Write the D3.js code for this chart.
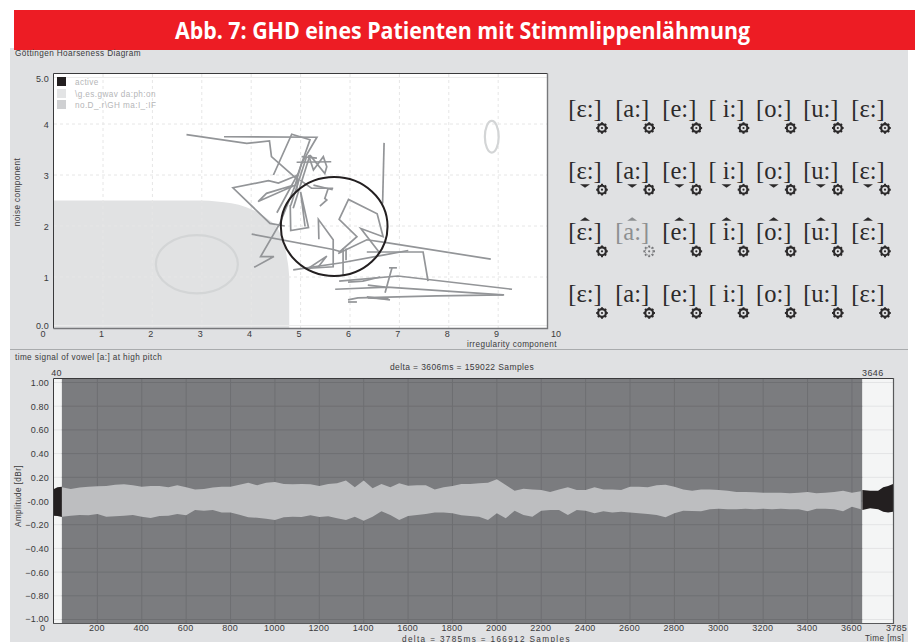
<!DOCTYPE html>
<html>
<head>
<meta charset="utf-8">
<script src="https://cdn.jsdelivr.net/npm/d3@7"></script>
<style>
  html, body { margin: 0; padding: 0; background: #fff; overflow: hidden; }
  svg { display: block; }
  text { font-family: "Liberation Sans", sans-serif; }
</style>
</head>
<body>
<div id="chart"></div>
<script>
// --- data ---
const titleText = "Abb. 7: GHD eines Patienten mit Stimmlippenlähmung";
const legendLabels = ["active", "\\g.es.gwav da:ph:on", "no.D_.r\\GH ma:I_:IF"];
const irregularityTicks = [0, 1, 2, 3, 4, 5, 6, 7, 8, 9, 10];
const noiseTicks = [0, 1, 2, 3, 4, 5];

// normal-voice area in the diagram (irregularity, noise)
const normalArea = [[0, 2.5], [3.0, 2.5], [3.3, 2.48], [3.9, 2.37], [4.3, 2.16], [4.58, 1.87], [4.72, 1.4], [4.77, 1.0], [4.77, 0]];

// [cx, cy, rx, ry]
const refEllipse1 = [2.90, 1.25, 0.83, 0.57];
const refEllipse2 = [8.87, 3.75, 0.14, 0.31];
const patientCircle = [5.68, 1.99, 1.08, 0.97];

// traced trajectory pieces (irregularity, noise)
const traces = [
  [[2.69,3.79],[3.91,3.62],[4.37,3.67],[4.41,3.36],[4.95,2.90],[4.92,2.71]],
  [[3.45,3.75],[5.33,3.74],[5.02,3.23],[4.89,2.80],[4.14,2.48],[4.31,2.64],[4.85,2.80]],
  [[4.45,3.00],[4.82,3.80],[5.19,3.69],[4.95,3.03],[4.52,2.26]],
  [[4.95,3.00],[4.55,2.84],[4.35,2.89],[3.63,2.75],[4.38,2.05],[4.68,2.00]],
  [[4.95,2.94],[4.58,2.05],[4.19,1.40],[4.46,1.40],[4.06,1.19]],
  [[4.79,2.41],[4.80,1.91],[5.16,1.97],[5.00,2.67],[5.09,1.99]],
  [[4.01,1.84],[5.66,1.54],[5.80,1.50],[6.14,1.79],[5.78,2.13],[5.97,2.52],[6.55,2.24],[6.67,1.79],[6.22,1.95],[6.61,1.46]],
  [[6.69,3.63],[6.66,2.44]],
  [[5.37,1.74],[5.36,2.13],[5.66,1.73],[5.66,1.20],[5.16,1.17],[5.53,1.41],[5.36,1.20]],
  [[4.85,1.14],[5.83,1.28],[6.67,1.43],[7.18,1.52]],
  [[5.76,1.46],[6.34,1.73],[6.77,1.67],[8.85,1.35]],
  [[6.34,1.49],[7.48,1.49],[7.58,0.92]],
  [[5.86,1.56],[5.86,1.04]],
  [[5.92,1.56],[5.92,1.33]],
  [[5.78,0.92],[6.97,1.02],[9.28,0.76]],
  [[5.70,0.76],[6.75,0.80],[9.10,0.65]],
  [[5.96,0.55],[6.16,0.59],[7.76,0.63],[9.12,0.65]],
  [[6.34,0.61],[6.81,0.55]],
  [[6.36,0.59],[6.78,0.57]],
  [[6.85,1.18],[6.71,0.69]],
  [[6.79,1.18],[6.95,1.18]],
  [[5.96,0.90],[6.26,0.92],[6.61,1.00]],
  [[6.36,0.84],[6.71,0.80]],
  [[5.96,0.51],[6.14,0.51]],
  [[4.92,3.25],[5.62,3.26]],
  [[5.19,3.39],[5.49,3.03],[5.53,3.16],[5.46,3.36],[5.26,3.10],[5.16,3.39]],
  [[5.02,3.36],[5.33,3.33]],
  [[5.19,3.39],[4.85,2.35]],
  [[5.12,3.36],[4.80,2.40]],
  [[4.99,2.90],[5.22,2.74],[5.66,2.74]],
  [[5.26,2.80],[5.65,2.71]],
  [[5.56,2.74],[5.49,2.54],[5.53,2.51],[5.39,2.39]]
];

const vowels = ["[ε:]", "[a:]", "[e:]", "[ i:]", "[o:]", "[u:]", "[ε:]"];
const vowelMarks = ["none", "below", "above", "none"];

const timeTicks = [0, 200, 400, 600, 800, 1000, 1200, 1400, 1600, 1800, 2000, 2200, 2400, 2600, 2800, 3000, 3200, 3400, 3600, 3785];
const gridTimes = [200, 400, 600, 800, 1000, 1200, 1400, 1600, 1800, 2000, 2200, 2400, 2600, 2800, 3000, 3200, 3400, 3600];
const amplitudeTicks = [1, 0.8, 0.6, 0.4, 0.2, 0, -0.2, -0.4, -0.6, -0.8, -1];
const selStart = 40;
const selEnd = 3646;
const totalTime = 3785;

// selected part of the signal, one reading every 40 ms from 40 to 3640 ms
const envUpper = [
  .115,.101,.113,.121,.124,.127,.138,.141,.132,.121,.127,.127,.115,.132,.115,.098,.101,.113,.121,.121,.138,.155,.132,.155,.160,.143,.141,.143,.141,.127,.143,.149,
  .172,.115,.172,.107,.143,.115,.149,.129,.132,.132,.098,.115,.127,.143,.143,.149,.155,.183,.135,.087,.104,.098,.093,.076,.098,.115,.093,.093,.115,.098,.098,.093,.121,
  .121,.115,.132,.138,.121,.098,.087,.098,.098,.093,.087,.076,.076,.073,.070,.070,.070,.065,.070,.076,.065,.070,.076,.087,.070,.082
];
const envLower = [
  -.132,-.124,-.118,-.121,-.110,-.132,-.129,-.124,-.118,-.132,-.143,-.127,-.124,-.110,-.121,-.076,-.082,-.076,-.096,-.096,-.115,-.138,-.141,-.149,-.160,-.138,-.132,-.135,-.121,-.135,-.129,-.146,
  -.160,-.132,-.166,-.132,-.087,-.118,-.160,-.127,-.118,-.110,-.098,-.098,-.104,-.121,-.127,-.132,-.160,-.104,-.146,-.082,-.118,-.132,-.082,-.076,-.076,-.118,-.076,-.082,-.104,-.087,-.098,-.090,-.098,
  -.104,-.110,-.118,-.138,-.104,-.082,-.084,-.087,-.070,-.065,-.070,-.070,-.065,-.070,-.065,-.070,-.065,-.070,-.070,-.087,-.065,-.065,-.070,-.087,-.048,-.070
];
const envTimes = envUpper.map((_, i) => selStart + i * 40);

// signal outside the selection
const headTimes = [0, 20, 40];
const headUpper = [.098, .115, .121];
const headLower = [-.124, -.127, -.135];
const tailTimes = [3647, 3682, 3718, 3741, 3763, 3785];
const tailUpper = [.093, .087, .087, .115, .127, .143];
const tailLower = [-.076, -.062, -.070, -.090, -.098, -.090];

// --- page ---
const svg = d3.select("#chart").append("svg")
  .attr("width", 915)
  .attr("height", 642);

svg.append("rect").attr("x", 10).attr("y", 48).attr("width", 898).attr("height", 594).attr("fill", "#e0e1e3");
svg.append("rect").attr("x", 14).attr("y", 10).attr("width", 901).attr("height", 40).attr("fill", "#ed1c24");
svg.append("text")
  .attr("x", 175).attr("y", 39)
  .attr("textLength", 575).attr("lengthAdjust", "spacingAndGlyphs")
  .style("font-family", "'Open Sans', sans-serif")
  .style("font-weight", 700).style("font-size", "23.5px")
  .attr("fill", "#fff")
  .text(titleText);

svg.append("line").attr("x1", 10).attr("x2", 908).attr("y1", 349.5).attr("y2", 349.5).attr("stroke", "#a9abad");

function label(x, y, str, anchor, size) {
  return svg.append("text")
    .attr("x", x).attr("y", y)
    .attr("text-anchor", anchor || "start")
    .style("font-size", (size || 8.2) + "px")
    .style("letter-spacing", "0.4px")
    .attr("fill", "#3a3a3c")
    .text(str);
}

// --- Goettingen diagram ---
const xTop = d3.scaleLinear().domain([0, 10]).range([53.6, 547.6]);
const yTop = d3.scaleLinear().domain([0, 5]).range([328, 73]);

label(15, 56, "Göttingen Hoarseness Diagram");
svg.append("rect").attr("x", 53.5).attr("y", 73.5).attr("width", 494).attr("height", 255).attr("fill", "#fff");

svg.append("path")
  .datum(normalArea)
  .attr("d", d3.area().x(d => xTop(d[0])).y0(yTop(0)).y1(d => yTop(d[1])).curve(d3.curveMonotoneX))
  .attr("fill", "#e1e2e3");

const topGrid = svg.append("g")
  .attr("stroke", "#e6e6e6").attr("stroke-dasharray", "3,3");
topGrid.selectAll(".v").data(irregularityTicks.slice(1, -1)).join("line")
  .attr("x1", d => xTop(d)).attr("x2", d => xTop(d)).attr("y1", 74).attr("y2", 328);
topGrid.selectAll(".h").data(noiseTicks.slice(1, -1)).join("line")
  .attr("y1", d => yTop(d)).attr("y2", d => yTop(d)).attr("x1", 54).attr("x2", 547);
svg.append("line").attr("x1", 54).attr("x2", 547).attr("y1", 77.5).attr("y2", 77.5).attr("stroke", "#ececec");
svg.append("line").attr("x1", 54).attr("x2", 547).attr("y1", 325.5).attr("y2", 325.5).attr("stroke", "#ececec");

// reference ellipses
[refEllipse1, refEllipse2].forEach(e => {
  svg.append("ellipse")
    .attr("cx", xTop(e[0])).attr("cy", yTop(e[1]))
    .attr("rx", xTop(e[2]) - xTop(0)).attr("ry", yTop(0) - yTop(e[3]))
    .attr("fill", "none").attr("stroke", "#d3d5d6").attr("stroke-width", 2.2);
});

const traceLine = d3.line().x(d => xTop(d[0])).y(d => yTop(d[1]));
svg.append("g").selectAll("path").data(traces).join("path")
  .attr("d", traceLine)
  .attr("fill", "none")
  .attr("stroke", "#939598")
  .attr("stroke-width", 1.7);

svg.append("ellipse")
  .attr("cx", xTop(patientCircle[0])).attr("cy", yTop(patientCircle[1]))
  .attr("rx", xTop(patientCircle[2]) - xTop(0)).attr("ry", yTop(0) - yTop(patientCircle[3]))
  .attr("fill", "none").attr("stroke", "#231f20").attr("stroke-width", 2);

// legend
const legendColors = ["#231f20", "#e3e4e5", "#cfd0d2"];
legendLabels.forEach((t, i) => {
  const ly = [77, 89, 100][i];
  svg.append("rect").attr("x", 57).attr("y", ly).attr("width", 9).attr("height", 9).attr("fill", legendColors[i]);
  label(75, ly + 8, t).attr("fill", "#b5b6b8");
});

// frame
svg.append("path").attr("d", "M53.5,328.5V73.5H547.5").attr("fill", "none").attr("stroke", "#3a3a3c").attr("stroke-width", 1);
svg.append("path").attr("d", "M53.5,328.5H547.5V73.5").attr("fill", "none").attr("stroke", "#77787b").attr("stroke-width", 1.4);

const xAxisTop = svg.append("g").attr("transform", "translate(0,331)")
  .call(d3.axisBottom(xTop).tickValues(irregularityTicks).tickSize(0).tickPadding(0).tickFormat(d3.format("d")));
const yAxisTop = svg.append("g").attr("transform", "translate(49,0)")
  .call(d3.axisLeft(yTop).tickValues(noiseTicks).tickSize(0).tickPadding(0).tickFormat(d => (d === 0 || d === 5) ? d.toFixed(1) : d));
xAxisTop.selectAll("text").attr("dx", d => d === 0 ? -11 : d === 10 ? 8 : -2);
yAxisTop.selectAll("text").attr("dy", d => d === 5 ? 8 : d === 0 ? 0.5 : 3.5);
label(467, 347, "irregularity component");
label(0, 0, "noise component", "middle").attr("transform", "translate(20,192) rotate(-90)");

// --- vowel buttons ---
const vowelCols = d3.scalePoint().domain(d3.range(vowels.length)).range([585, 868]);
const vowelRows = d3.scalePoint().domain(d3.range(vowelMarks.length)).range([117, 302]);

function gear(g, x, y, col, dotted) {
  const a = g.append("g").attr("transform", `translate(${x},${y})`);
  a.selectAll("line").data(d3.range(8)).join("line")
    .attr("x1", d => 4 * Math.cos(d * Math.PI / 4)).attr("y1", d => 4 * Math.sin(d * Math.PI / 4))
    .attr("x2", d => 5.8 * Math.cos(d * Math.PI / 4)).attr("y2", d => 5.8 * Math.sin(d * Math.PI / 4))
    .attr("stroke", col).attr("stroke-width", 2);
  a.append("circle").attr("r", 3.9).attr("fill", "#e0e1e3").attr("stroke", col)
    .attr("stroke-width", dotted ? 1 : 2.2).attr("stroke-dasharray", dotted ? "1.5,1" : null);
  a.append("circle").attr("r", 1.1).attr("fill", col);
}

vowelMarks.forEach((mark, r) => {
  vowels.forEach((v, c) => {
    const muted = r === 2 && c === 1;
    const col = muted ? "#8d8f91" : "#2c2a2b";
    const cx = vowelCols(c), cy = vowelRows(r);
    svg.append("text")
      .attr("x", cx).attr("y", cy)
      .attr("text-anchor", "middle")
      .style("font-family", "'Liberation Serif', serif")
      .style("font-size", "24.5px")
      .attr("fill", col)
      .text(v);
    if (mark === "below") {
      svg.append("path").attr("d", `M${cx - 5},${cy + 5.5}H${cx + 5}L${cx},${cy + 9}Z`).attr("fill", col);
    } else if (mark === "above") {
      svg.append("path").attr("d", `M${cx - 5},${cy - 19.5}H${cx + 5}L${cx},${cy - 23}Z`).attr("fill", col);
    }
    gear(svg, cx + 17, cy + 11, muted ? "#77787b" : "#2c2a2b", muted);
  });
});

// --- time signal ---
const xBot = d3.scaleLinear().domain([0, totalTime]).range([53, 893]);
const yBot = d3.scaleLinear().domain([1, -1]).range([382.5, 619.5]);

label(15, 359.5, "time signal of vowel [a:] at high pitch");
label(462, 370, "delta = 3606ms = 159022 Samples", "middle", 8.5);
label(62, 376, String(selStart), "end", 9);
label(862, 376, String(selEnd), "start", 9);

svg.append("rect").attr("x", 53).attr("y", 378).attr("width", 840).attr("height", 245).attr("fill", "#f4f5f5");
const selX = xBot(selStart), selW = xBot(selEnd) - xBot(selStart);

// light grid outside the selection
svg.append("g").selectAll("line").data(amplitudeTicks).join("line")
  .attr("x1", 53).attr("x2", 893)
  .attr("y1", d => yBot(d)).attr("y2", d => yBot(d))
  .attr("stroke", "#e3e4e5").attr("stroke-width", 1);

svg.append("rect").attr("x", selX).attr("y", 378).attr("width", selW).attr("height", 245).attr("fill", "#7b7c7f");

const botGrid = svg.append("g").attr("stroke", "#6e6f72").attr("stroke-width", 1);
botGrid.selectAll(".h").data(amplitudeTicks).join("line")
  .attr("x1", selX).attr("x2", selX + selW)
  .attr("y1", d => yBot(d)).attr("y2", d => yBot(d));
botGrid.selectAll(".v").data(gridTimes).join("line")
  .attr("x1", d => xBot(d)).attr("x2", d => xBot(d))
  .attr("y1", 378).attr("y2", 623);

function envelope(times, upper, lower, fill) {
  const pts = times.map((t, i) => [t, upper[i], lower[i]]);
  svg.append("path")
    .datum(pts)
    .attr("d", d3.area().x(d => xBot(d[0])).y0(d => yBot(d[2])).y1(d => yBot(d[1])))
    .attr("fill", fill);
}
envelope(envTimes, envUpper, envLower, "#bdbec0");
envelope(headTimes, headUpper, headLower, "#231f20");
envelope(tailTimes, tailUpper, tailLower, "#231f20");

svg.append("path").attr("d", "M53.5,623.5V378.5H893").attr("fill", "none").attr("stroke", "#3a3a3c").attr("stroke-width", 1);
svg.append("path").attr("d", "M53,623.5H893.5V378").attr("fill", "none").attr("stroke", "#58595b").attr("stroke-width", 1.2);

const xAxisBot = svg.append("g").attr("transform", "translate(0,625)")
  .call(d3.axisBottom(xBot).tickValues(timeTicks).tickSize(0).tickPadding(0).tickFormat(d3.format("d")));
const yAxisBot = svg.append("g").attr("transform", "translate(49,0)")
  .call(d3.axisLeft(yBot).tickValues(amplitudeTicks).tickSize(0).tickPadding(0).tickFormat(d3.format(".2f")));
xAxisBot.selectAll("text").attr("dx", d => d === 0 ? -11 : d === totalTime ? 3 : -1);
yAxisBot.selectAll("text").text(d => d === 0 ? "-0.00" : d3.format(".2f")(d)).attr("dy", d => d === -1 ? 2 : 3);
label(865, 641, "Time [ms]");
label(402, 641.5, "delta = 3785ms = 166912 Samples").style("letter-spacing", "1.35px");
label(0, 0, "Amplitude [dBr]", "middle").attr("transform", "translate(21,496) rotate(-90)");

// common look for the axis pieces
svg.selectAll(".domain").remove();
svg.selectAll(".tick text")
  .style("font-family", "'Liberation Sans', sans-serif")
  .style("font-size", "9px")
  .style("letter-spacing", "0.2px")
  .attr("fill", "#3a3a3c");
</script>
</body>
</html>
